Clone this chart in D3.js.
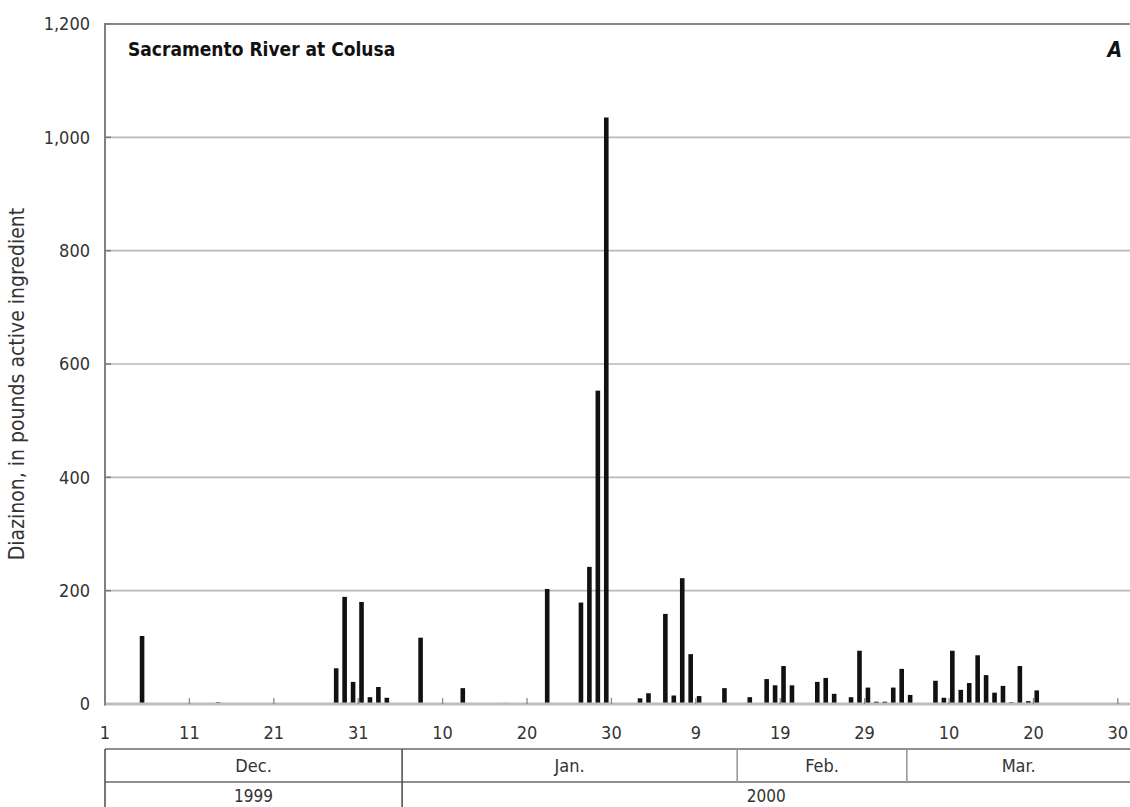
<!DOCTYPE html>
<html>
<head>
<meta charset="utf-8">
<script src="https://cdn.jsdelivr.net/npm/d3@7"></script>
<style>
  body { margin: 0; background: #fff; }
  svg { display: block; }
  text { font-family: "DejaVu Sans Condensed", "DejaVu Sans", sans-serif; font-stretch: condensed; fill: #333; }
</style>
</head>
<body>
<script>
// daily diazinon load, Sacramento River at Colusa
var barDates = [
  "1999-12-05", "1999-12-14", "1999-12-28", "1999-12-29", "1999-12-30", "1999-12-31",
  "2000-01-01", "2000-01-02", "2000-01-03", "2000-01-07", "2000-01-12", "2000-01-17",
  "2000-01-22", "2000-01-26", "2000-01-27", "2000-01-28", "2000-01-29",
  "2000-02-02", "2000-02-03", "2000-02-05", "2000-02-06", "2000-02-07", "2000-02-08",
  "2000-02-09", "2000-02-12", "2000-02-15", "2000-02-17", "2000-02-18", "2000-02-19",
  "2000-02-20", "2000-02-23", "2000-02-24", "2000-02-25", "2000-02-27", "2000-02-28",
  "2000-02-29", "2000-03-01", "2000-03-02", "2000-03-03", "2000-03-04", "2000-03-05",
  "2000-03-08", "2000-03-09", "2000-03-10", "2000-03-11", "2000-03-12", "2000-03-13",
  "2000-03-14", "2000-03-15", "2000-03-16", "2000-03-17", "2000-03-18", "2000-03-19",
  "2000-03-20"
];
var barValues = [
  120, 3, 63, 189, 39, 180,
  12, 30, 11, 117, 28, 2,
  203, 179, 242, 553, 1035,
  10, 19, 159, 15, 222, 88,
  14, 28, 12, 44, 33, 67,
  33, 39, 46, 18, 12, 94,
  29, 4, 4, 29, 62, 16,
  41, 11, 94, 25, 37, 86,
  51, 20, 32, 3, 67, 5,
  24
];
var yTicks = [0, 200, 400, 600, 800, 1000, 1200];
var xTickDays = [0, 10, 20, 30, 40, 50, 60, 70, 80, 90, 100, 110, 120];
// month / year cells of the table under the axis, in days after Dec. 1
var monthLabels = ["Dec.", "Jan.", "Feb.", "Mar."];
var monthStarts = [0, 35.2, 74.9, 95.0];
var yearLabels = ["1999", "2000"];
var yearStarts = [0, 35.2];
var lastDay = 121.5;

var start = Date.UTC(1999, 11, 1);
function dayOf(s){
    return (Date.parse(s + "T00:00:00Z") - start) / 864e5;
}

var width = 1130;
var height = 807;
var plotLeft = 105;
var plotTop = 24;
var plotBottom = 704;

var svg = d3.select("body").append("svg")
    .attr("width", width)
    .attr("height", height);

var x = d3.scaleLinear().domain([0, lastDay]).range([plotLeft, 1130.5]);
var y = d3.scaleLinear().domain([0, 1200]).range([plotBottom, plotTop]);
var fmtDay = d3.utcFormat("%-d");

/*
 * GRID + FRAME
 */
svg.selectAll("line.grid")
        .data(yTicks.filter(function(d){ return d > 0 && d < 1200; }))
    .enter().append("line")
        .attr("class", "grid")
        .attr("x1", plotLeft).attr("x2", width)
        .attr("y1", function(d){ return y(d); })
        .attr("y2", function(d){ return y(d); })
        .style("stroke", "#b8b8b8")
        .style("stroke-width", 1.6);

svg.append("line")
    .attr("x1", plotLeft).attr("x2", width)
    .attr("y1", y(1200)).attr("y2", y(1200))
    .style("stroke", "#8a8a8a")
    .style("stroke-width", 2);

// y labels
svg.selectAll("text.ytick")
        .data(yTicks)
    .enter().append("text")
        .attr("class", "ytick")
        .attr("x", 90)
        .attr("y", function(d){ return y(d); })
        .attr("dy", "0.36em")
        .attr("text-anchor", "end")
        .style("font-size", "18px")
        .text(d3.format(","));

svg.selectAll("line.ytickmark")
        .data(yTicks)
    .enter().append("line")
        .attr("class", "ytickmark")
        .attr("x1", plotLeft).attr("x2", plotLeft + 6)
        .attr("y1", function(d){ return y(d); })
        .attr("y2", function(d){ return y(d); })
        .style("stroke", "#777")
        .style("stroke-width", 1.5);

/*
 * BARS
 */
svg.append("g").selectAll("rect")
        .data(barDates)
    .enter().append("rect")
        .attr("x", function(d){ return x(dayOf(d)) + 1; })
        .attr("width", 4.6)
        .attr("y", function(d, i){ return y(barValues[i]); })
        .attr("height", function(d, i){ return plotBottom - y(barValues[i]); })
        .style("fill", "#111");

// baseline and left axis
svg.append("line")
    .attr("x1", plotLeft).attr("x2", width)
    .attr("y1", plotBottom).attr("y2", plotBottom)
    .style("stroke", "#bdbdbd")
    .style("stroke-width", 3);
svg.append("line")
    .attr("x1", plotLeft).attr("x2", plotLeft)
    .attr("y1", plotTop - 1).attr("y2", plotBottom + 1.5)
    .style("stroke", "#808080")
    .style("stroke-width", 2);

// x ticks
svg.selectAll("line.xtick")
        .data(xTickDays)
    .enter().append("line")
        .attr("class", "xtick")
        .attr("x1", function(d){ return x(d); })
        .attr("x2", function(d){ return x(d); })
        .attr("y1", plotBottom).attr("y2", plotBottom - 6)
        .style("stroke", "#888")
        .style("stroke-width", 1.3);

svg.selectAll("text.xtick")
        .data(xTickDays)
    .enter().append("text")
        .attr("class", "xtick")
        .attr("x", function(d){ return x(d); })
        .attr("y", 739)
        .attr("text-anchor", "middle")
        .style("font-size", "18px")
        .text(function(d){ return fmtDay(d3.utcDay.offset(new Date(start), d)); });

/*
 * MONTH / YEAR TABLE
 */
var rowTop = 749;
var rowMid = 782;
var table = svg.append("g")
    .style("stroke", "#6a6a6a")
    .style("stroke-width", 1.6);
table.append("line")
    .attr("x1", plotLeft).attr("x2", width)
    .attr("y1", rowTop).attr("y2", rowTop);
table.append("line")
    .attr("x1", plotLeft).attr("x2", width)
    .attr("y1", rowMid).attr("y2", rowMid);
table.selectAll("line.month")
        .data(monthStarts)
    .enter().append("line")
        .attr("class", "month")
        .attr("x1", function(d){ return x(d); })
        .attr("x2", function(d){ return x(d); })
        .attr("y1", rowTop)
        .attr("y2", function(d){ return yearStarts.indexOf(d) >= 0 ? height : rowMid; })
        .style("stroke", function(d){ return yearStarts.indexOf(d) >= 0 ? "#555" : "#999"; });

svg.selectAll("text.month")
        .data(monthLabels)
    .enter().append("text")
        .attr("class", "month")
        .attr("x", function(d, i){
            var end = i < monthStarts.length - 1 ? monthStarts[i + 1] : lastDay;
            return (x(monthStarts[i]) + x(end)) / 2;
        })
        .attr("y", 772)
        .attr("text-anchor", "middle")
        .style("font-size", "18px")
        .text(function(d){ return d; });

svg.selectAll("text.year")
        .data(yearLabels)
    .enter().append("text")
        .attr("class", "year")
        .attr("x", function(d, i){
            var end = i < yearStarts.length - 1 ? yearStarts[i + 1] : lastDay;
            return (x(yearStarts[i]) + x(end)) / 2;
        })
        .attr("y", 802)
        .attr("text-anchor", "middle")
        .style("font-size", "17px")
        .text(function(d){ return d; });

/*
 * TITLES
 */
svg.append("text")
    .attr("x", 128)
    .attr("y", 56)
    .style("font-size", "19px")
    .style("font-weight", "bold")
    .style("fill", "#111")
    .text("Sacramento River at Colusa");

svg.append("text")
    .attr("x", 1122)
    .attr("y", 57)
    .attr("text-anchor", "end")
    .style("font-size", "21px")
    .style("font-weight", "bold")
    .style("font-style", "italic")
    .style("fill", "#111")
    .text("A");

svg.append("text")
    .attr("transform", "translate(24," + ((plotTop + plotBottom) / 2 + 20) + ") rotate(-90)")
    .attr("text-anchor", "middle")
    .style("font-size", "21px")
    .text("Diazinon, in pounds active ingredient");
</script>
</body>
</html>
